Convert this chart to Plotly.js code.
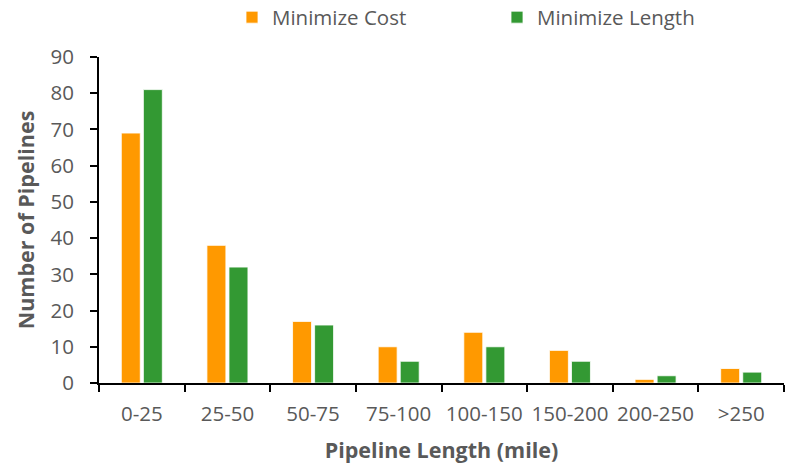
<!DOCTYPE html>
<html>
<head>
<meta charset="utf-8">
<script src="https://cdn.plot.ly/plotly-3.0.1.min.js"></script>
<style>
  html, body { margin: 0; padding: 0; background: #ffffff; }
  #chart { width: 792px; height: 465px; }
</style>
</head>
<body>
<div id="chart"></div>
<script>
// Pipeline length bins (miles)
const lengthBins = ['0-25', '25-50', '50-75', '75-100', '100-150', '150-200', '200-250', '>250'];
// Number of pipelines per bin for each routing objective
const minimizeCost = [69, 38, 17, 10, 14, 9, 1, 4];
const minimizeLength = [81, 32, 16, 6, 10, 6, 2, 3];
const yTicks = [0, 10, 20, 30, 40, 50, 60, 70, 80, 90];

const textGray = '#595959';
const fontFace = '"Open Sans", sans-serif';

const traces = [
  {
    type: 'bar',
    name: 'Minimize Cost',
    x: lengthBins,
    y: minimizeCost,
    marker: { color: '#FF9900', line: { color: '#ffffff', width: 0.8 } },
    hoverinfo: 'x+y+name'
  },
  {
    type: 'bar',
    name: 'Minimize Length',
    x: lengthBins,
    y: minimizeLength,
    marker: { color: '#339933', line: { color: '#ffffff', width: 0.8 } },
    hoverinfo: 'x+y+name'
  }
];

const layout = {
  width: 792,
  height: 465,
  margin: { l: 99, r: 8, t: 57, b: 82, autoexpand: false },
  paper_bgcolor: '#ffffff',
  plot_bgcolor: '#ffffff',
  font: { family: fontFace, color: textGray, size: 21 },
  barmode: 'group',
  bargap: 0.485,
  bargroupgap: 0.14,
  showlegend: true,
  legend: {
    orientation: 'h',
    x: (232 - 99) / 685,
    xanchor: 'left',
    y: 1.183,
    yanchor: 'top',
    entrywidth: 220,
    entrywidthmode: 'pixels',
    font: { family: fontFace, color: textGray, size: 20.5 },
    bgcolor: 'rgba(0,0,0,0)'
  },
  xaxis: {
    type: 'category',
    tickson: 'boundaries',
    tickangle: 0,
    ticks: 'outside',
    ticklen: 7,
    tickwidth: 2,
    tickcolor: '#000000',
    ticklabelstandoff: 11,
    showline: true,
    linecolor: '#000000',
    linewidth: 2,
    showgrid: false,
    zeroline: false,
    tickfont: { family: fontFace, color: textGray, size: 20.5 },
    title: {
      text: '<b>Pipeline Length (mile)</b>',
      font: { family: fontFace, color: textGray, size: 21.5 },
      standoff: 17
    }
  },
  yaxis: {
    range: [0, 90],
    tickmode: 'array',
    tickvals: yTicks,
    ticks: 'outside',
    ticklen: 7,
    tickwidth: 2,
    tickcolor: '#000000',
    ticklabelstandoff: 12,
    showline: true,
    linecolor: '#000000',
    linewidth: 2,
    showgrid: false,
    zeroline: false,
    tickfont: { family: fontFace, color: textGray, size: 20.5 },
    title: {
      text: '<b>Number of Pipelines</b>',
      font: { family: fontFace, color: textGray, size: 21.5 },
      standoff: 10
    }
  }
};

Plotly.newPlot('chart', traces, layout, { displayModeBar: false, staticPlot: true });
</script>
</body>
</html>
